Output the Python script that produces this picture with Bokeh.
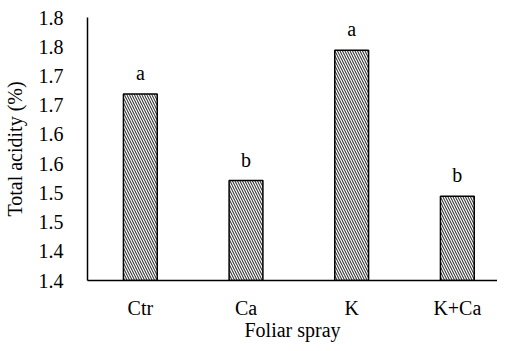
from bokeh.plotting import figure
from bokeh.models import FixedTicker, Range1d, ColumnDataSource
from bokeh.embed import file_html
from bokeh.resources import INLINE
from bokeh.core.properties import value

categories = ["Ctr", "Ca", "K", "K+Ca"]
acidity = [1.719, 1.571, 1.794, 1.544]
letters = ["a", "b", "a", "b"]
y_ticks = [1.40, 1.45, 1.50, 1.55, 1.60, 1.65, 1.70, 1.75, 1.80, 1.85]
y_tick_labels = ["1.4", "1.4", "1.5", "1.5", "1.6", "1.6", "1.7", "1.7", "1.8", "1.8"]

xpos = [i + 0.5 for i in range(len(categories))]
src = ColumnDataSource(dict(x=xpos, top=acidity, lab=letters))

FONT = "Liberation Serif"
FS = "20px"

p = figure(width=497, height=343, output_backend="svg", toolbar_location=None,
           x_range=Range1d(0, 3.88), y_range=Range1d(1.40, 1.85),
           min_border_left=82, min_border_top=17, min_border_bottom=61, min_border_right=0)
p.outline_line_color = None
p.xgrid.visible = False
p.ygrid.visible = False

p.vbar(x="x", top="top", bottom=1.40, width=0.32, source=src,
       fill_color="white", line_color="black", line_width=1.5,
       hatch_pattern="\\", hatch_color="#3a3a3a", hatch_weight=1.1, hatch_scale=5)

p.text(x="x", y="top", text="lab", source=src, y_offset=-21,
       text_font=value(FONT), text_font_size=FS, text_color="black",
       text_align="center", text_baseline="middle")

p.yaxis.ticker = FixedTicker(ticks=y_ticks)
p.yaxis.major_label_overrides = {t: l for t, l in zip(y_ticks, y_tick_labels)}
p.xaxis.ticker = FixedTicker(ticks=xpos)
p.xaxis.major_label_overrides = {x: c for x, c in zip(xpos, categories)}

for ax in (p.xaxis, p.yaxis):
    ax.major_tick_line_color = None
    ax.minor_tick_line_color = None
    ax.axis_line_color = "black"
    ax.axis_line_width = 1.5
    ax.major_label_text_font = FONT
    ax.major_label_text_font_size = FS
    ax.major_label_text_color = "black"
    ax.axis_label_text_font = FONT
    ax.axis_label_text_font_size = FS
    ax.axis_label_text_font_style = "normal"
    ax.axis_label_text_color = "black"

p.yaxis.axis_label = "Total acidity (%)"
p.xaxis.axis_label = "Foliar spray"
p.yaxis.major_label_standoff = 18
p.yaxis.axis_label_standoff = 10
p.xaxis.major_label_standoff = 10
p.xaxis.axis_label_standoff = -3

open("out.html", "w").write(file_html(p, INLINE))
